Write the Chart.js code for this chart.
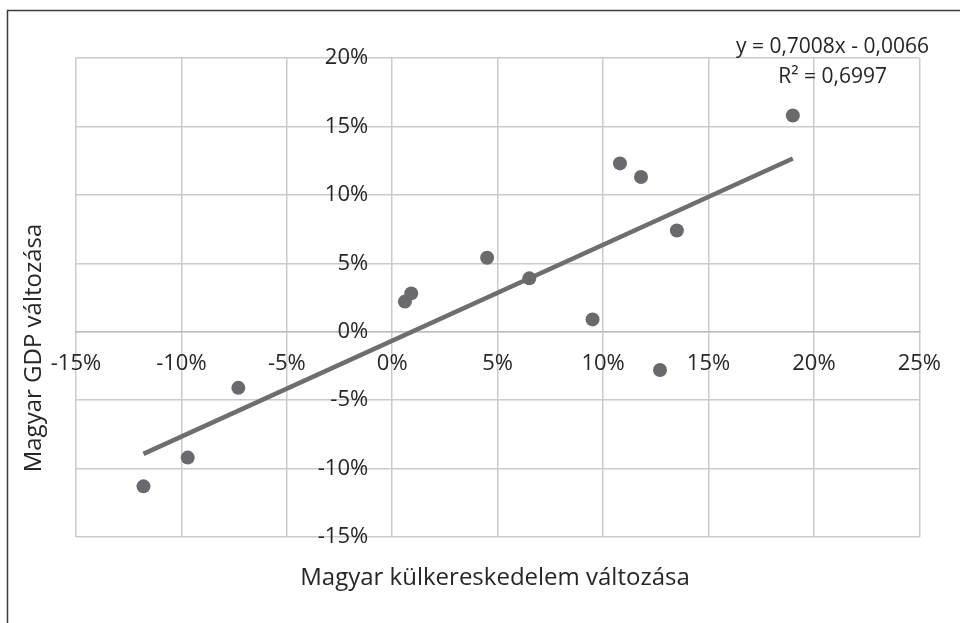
<!DOCTYPE html>
<html>
<head>
<meta charset="utf-8">
<script src="https://cdn.jsdelivr.net/npm/chart.js@4/dist/chart.umd.min.js"></script>
<style>
  html, body { margin: 0; padding: 0; background: #ffffff; }
  #wrap { width: 960px; height: 623px; position: relative; }
</style>
</head>
<body>
<div id="wrap"><canvas id="c" width="960" height="623"></canvas></div>
<script>
// Data (percent values)
const tradeChange = [-11.8, -9.7, -7.3, 0.6, 0.9, 4.5, 6.5, 9.5, 10.8, 11.8, 12.7, 13.5, 19.0];
const gdpChange   = [-11.3, -9.2, -4.1, 2.2, 2.8, 5.4, 3.9, 0.9, 12.3, 11.3, -2.8, 7.4, 15.8];
const trendSlope = 0.7008;
const trendIntercept = -0.66; // in percent (-0,0066)
const equationLabel = 'y = 0,7008x - 0,0066';
const r2Label = 'R² = 0,6997';
const xAxisTitle = 'Magyar külkereskedelem változása';
const yAxisTitle = 'Magyar GDP változása';
const xTicks = [-15, -10, -5, 0, 5, 10, 15, 20, 25];
const yTicks = [-15, -10, -5, 0, 5, 10, 15, 20];

const points = tradeChange.map((x, i) => ({x: x, y: gdpChange[i]}));
const xMin = Math.min(...tradeChange), xMax = Math.max(...tradeChange);
const trendPoints = [xMin, xMax].map(x => ({x: x, y: trendSlope * x + trendIntercept}));

const FONT = "'Open Sans', 'Noto Sans', sans-serif";

const decorPlugin = {
  id: 'decor',
  beforeDraw(chart) {
    const ctx = chart.ctx;
    ctx.save();
    ctx.fillStyle = '#ffffff';
    ctx.fillRect(0, 0, chart.width, chart.height);
    ctx.restore();
  },
  afterDraw(chart) {
    const ctx = chart.ctx;
    ctx.save();
    // outer frame (partially visible)
    ctx.strokeStyle = '#3a3a3a';
    ctx.lineWidth = 1.5;
    ctx.beginPath();
    ctx.moveTo(7.5, 640);
    ctx.lineTo(7.5, 10.5);
    ctx.lineTo(980, 10.5);
    ctx.stroke();
    // axis titles
    ctx.fillStyle = '#262626';
    ctx.font = '24px ' + FONT;
    ctx.textAlign = 'center';
    ctx.textBaseline = 'middle';
    ctx.fillText(xAxisTitle, 495, 578);
    ctx.save();
    ctx.translate(34, 348);
    ctx.rotate(-Math.PI / 2);
    ctx.fillText(yAxisTitle, 0, 0);
    ctx.restore();
    // trendline equation
    ctx.font = '21px ' + FONT;
    ctx.textAlign = 'right';
    ctx.fillText(equationLabel, 929, 47);
    ctx.fillText(r2Label, 887, 77);
    ctx.restore();
  }
};

new Chart(document.getElementById('c'), {
  type: 'scatter',
  data: {
    datasets: [
      {
        label: 'Trend',
        data: trendPoints,
        showLine: true,
        borderColor: '#6e6e70',
        borderWidth: 4.5,
        pointRadius: 0,
        fill: false,
        order: 2
      },
      {
        label: 'Adatok',
        data: points,
        backgroundColor: '#6a6a6e',
        borderColor: '#6a6a6e',
        pointRadius: 7,
        pointBorderWidth: 0,
        order: 1
      }
    ]
  },
  options: {
    responsive: false,
    animation: false,
    devicePixelRatio: 1,
    layout: { padding: { left: 76, right: 40, top: 58, bottom: 86 } },
    plugins: {
      legend: { display: false },
      tooltip: { enabled: false },
      title: { display: false }
    },
    scales: {
      x: {
        type: 'linear',
        position: { y: 0 },
        min: -15, max: 25,
        afterBuildTicks: (s) => { s.ticks = xTicks.map(v => ({value: v})); },
        grid: { color: '#cbcbcd', lineWidth: 1.5, drawTicks: false },
        border: { display: true, color: '#bdbdbf', width: 1.5 },
        ticks: {
          padding: 19,
          color: '#262626',
          font: { family: FONT, size: 22 },
          maxRotation: 0,
          autoSkip: false,
          callback: (v) => v + '%'
        }
      },
      y: {
        type: 'linear',
        // labels are right-aligned at this x value; the vertical 0 line comes from the x grid
        position: { x: -1.14 },
        min: -15, max: 20,
        afterBuildTicks: (s) => { s.ticks = yTicks.map(v => ({value: v})); },
        grid: { color: '#cbcbcd', lineWidth: 1.5, drawTicks: false },
        border: { display: false },
        ticks: {
          padding: 0,
          color: '#262626',
          font: { family: FONT, size: 22 },
          autoSkip: false,
          callback: (v) => v + '%'
        }
      }
    }
  },
  plugins: [decorPlugin]
});
</script>
</body>
</html>
